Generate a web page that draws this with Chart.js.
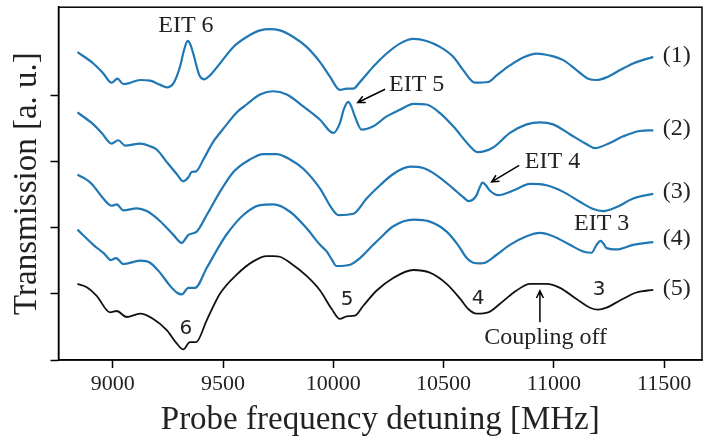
<!DOCTYPE html>
<html><head><meta charset="utf-8">
<script src="https://cdn.jsdelivr.net/npm/chart.js@4.4.1/dist/chart.umd.min.js"></script>
<style>html,body{margin:0;padding:0;background:#fff;}canvas{display:block;}</style>
</head><body>
<canvas id="c" width="708" height="446"></canvas>
<script>
// ---- data (probe detuning in MHz, transmission in a.u. incl. vertical offsets) ----
const freq1 = [8840,8912,8957,8995,9021,9048,9071,9124,9169,9214,9245,9275,9305,9323,9340,9354,9365,9393,9414,9441,9486,9547,9607,9668,9713,9758,9819,9879,9940,9985,10030,10061,10091,10121,10181,10242,10302,10363,10423,10484,10544,10589,10642,10703,10741,10801,10861,10922,10982,11043,11103,11156,11194,11239,11300,11360,11451];
const trans1 = [4.65,4.48,4.33,4.19,4.25,4.17,4.18,4.23,4.22,4.16,4.12,4.18,4.43,4.68,4.82,4.75,4.63,4.30,4.24,4.30,4.48,4.73,4.88,4.98,5.00,4.98,4.88,4.73,4.50,4.28,4.08,4.10,4.10,4.20,4.43,4.63,4.78,4.85,4.82,4.73,4.58,4.38,4.19,4.20,4.30,4.45,4.57,4.63,4.60,4.53,4.38,4.25,4.23,4.27,4.38,4.48,4.58];
const freq2 = [8840,8912,8950,8995,9025,9056,9124,9169,9199,9245,9290,9320,9343,9358,9378,9411,9456,9486,9517,9562,9607,9668,9728,9789,9864,9940,10000,10030,10048,10068,10083,10098,10129,10181,10242,10302,10363,10423,10484,10544,10620,10655,10725,10801,10877,10937,10997,11073,11149,11186,11254,11315,11390,11451];
const trans2 = [3.74,3.56,3.43,3.27,3.32,3.24,3.27,3.23,3.18,2.99,2.81,2.70,2.76,2.84,2.85,3.03,3.30,3.43,3.56,3.74,3.86,4.01,4.06,4.01,3.83,3.63,3.43,3.58,3.79,3.90,3.82,3.68,3.48,3.53,3.68,3.78,3.87,3.86,3.73,3.53,3.23,3.14,3.21,3.43,3.56,3.59,3.56,3.41,3.26,3.20,3.28,3.38,3.46,3.47];
const freq3 = [8840,8874,8905,8957,8995,9018,9048,9109,9154,9214,9275,9313,9343,9381,9426,9486,9547,9622,9683,9743,9804,9864,9940,9993,10023,10091,10151,10212,10272,10348,10408,10469,10544,10589,10615,10650,10663,10677,10692,10710,10748,10816,10892,10967,11043,11118,11179,11224,11285,11360,11451];
const trans3 = [2.80,2.74,2.66,2.44,2.33,2.35,2.26,2.29,2.25,2.10,1.89,1.77,1.89,1.94,2.19,2.54,2.84,3.03,3.11,3.11,3.03,2.89,2.59,2.29,2.19,2.21,2.44,2.64,2.81,2.92,2.90,2.79,2.59,2.46,2.40,2.49,2.60,2.68,2.64,2.56,2.49,2.56,2.66,2.64,2.54,2.39,2.28,2.25,2.31,2.44,2.51];
const freq4 = [8840,8912,8960,8992,9015,9048,9124,9169,9214,9260,9290,9313,9343,9373,9426,9486,9517,9592,9668,9728,9804,9879,9940,9970,9993,10015,10076,10121,10181,10212,10272,10363,10438,10514,10565,10605,10635,10665,10688,10741,10801,10877,10937,10997,11073,11133,11171,11194,11212,11225,11239,11285,11360,11451];
const trans4 = [1.97,1.74,1.61,1.51,1.54,1.45,1.50,1.47,1.32,1.12,1.02,0.99,1.09,1.09,1.39,1.74,1.90,2.19,2.34,2.35,2.24,1.99,1.74,1.64,1.52,1.42,1.44,1.54,1.74,1.84,2.02,2.12,2.09,1.94,1.74,1.54,1.47,1.46,1.47,1.59,1.74,1.87,1.92,1.87,1.74,1.64,1.62,1.74,1.80,1.76,1.69,1.67,1.74,1.78];
const freq5 = [8840,8882,8927,8988,9018,9063,9124,9184,9245,9290,9320,9350,9378,9426,9486,9562,9637,9698,9728,9758,9804,9879,9940,9993,10030,10061,10098,10136,10197,10272,10363,10438,10514,10574,10612,10650,10703,10756,10831,10892,10967,11028,11103,11164,11201,11239,11300,11375,11451];
const trans5 = [1.15,1.10,0.97,0.72,0.74,0.65,0.70,0.62,0.45,0.25,0.16,0.27,0.27,0.60,1.00,1.29,1.49,1.57,1.57,1.56,1.47,1.27,1.05,0.77,0.62,0.66,0.67,0.82,1.05,1.24,1.36,1.32,1.15,0.93,0.77,0.70,0.72,0.85,1.05,1.15,1.15,1.09,0.92,0.79,0.76,0.79,0.90,1.02,1.06];
const xTicks = [9000,9500,10000,10500,11000,11500];
const yTicks = [0,1,2,3,4];
const traceNames = ['(1)','(2)','(3)','(4)','(5)'];

// ---- annotations (placed in data coordinates) ----
const SERIF = "'Liberation Serif', 'Times New Roman', serif";
const SANS = "'DejaVu Sans', sans-serif";
const serifNotes = [
  {t:'EIT 6', f:9332, v:5.055}, {t:'EIT 5', f:10378, v:4.165},
  {t:'EIT 4', f:10994, v:2.99}, {t:'EIT 3', f:11217, v:2.06},
  {t:traceNames[0], f:11557, v:4.60}, {t:traceNames[1], f:11557, v:3.50}, {t:traceNames[2], f:11557, v:2.55},
  {t:traceNames[3], f:11557, v:1.83}, {t:traceNames[4], f:11557, v:1.08},
  {t:'Coupling off', f:10963, v:0.33}
];
const sansNotes = [
  {t:'6', f:9332, v:0.47}, {t:'5', f:10063, v:0.91}, {t:'4', f:10657, v:0.92}, {t:'3', f:11205, v:1.06}
];
const arrows = [
  {f0:10235, v0:4.09, f1:10111, v1:3.89},
  {f0:10843, v0:2.94, f1:10718, v1:2.69},
  {f0:10937, v0:0.57, f1:10937, v1:1.045}
];

const mk = (fs, vs) => fs.map((f, i) => ({x: f, y: vs[i]}));
const blue = '#1f77b4';

const annotPlugin = {
  id: 'annot',
  afterDatasetsDraw(chart) {
    const {ctx, chartArea: a, scales: {x, y}} = chart;
    ctx.save();
    ctx.strokeStyle = '#000';
    ctx.lineWidth = 1.5;
    ctx.strokeRect(a.left, a.top, a.right - a.left, a.bottom - a.top);
    ctx.fillStyle = '#222';
    ctx.textAlign = 'center';
    ctx.textBaseline = 'middle';
    ctx.font = '24px ' + SERIF;
    serifNotes.forEach(n => ctx.fillText(n.t, x.getPixelForValue(n.f), y.getPixelForValue(n.v)));
    ctx.font = '20px ' + SANS;
    sansNotes.forEach(n => ctx.fillText(n.t, x.getPixelForValue(n.f), y.getPixelForValue(n.v)));
    ctx.lineWidth = 1.5;
    ctx.strokeStyle = '#000';
    arrows.forEach(r => {
      const x0 = x.getPixelForValue(r.f0), y0 = y.getPixelForValue(r.v0);
      const x1 = x.getPixelForValue(r.f1), y1 = y.getPixelForValue(r.v1);
      const ang = Math.atan2(y1 - y0, x1 - x0), L = 8, w = 0.45;
      ctx.beginPath();
      ctx.moveTo(x0, y0); ctx.lineTo(x1, y1);
      ctx.moveTo(x1 - L * Math.cos(ang - w), y1 - L * Math.sin(ang - w));
      ctx.lineTo(x1, y1);
      ctx.lineTo(x1 - L * Math.cos(ang + w), y1 - L * Math.sin(ang + w));
      ctx.stroke();
    });
    ctx.restore();
  }
};

const ds = (fs, vs, color, w) => ({
  data: mk(fs, vs), borderColor: color, borderWidth: w, pointRadius: 0,
  cubicInterpolationMode: 'monotone', fill: false
});

new Chart(document.getElementById('c'), {
  type: 'line',
  data: {
    datasets: [
      ds(freq1, trans1, blue, 2.2), ds(freq2, trans2, blue, 2.2), ds(freq3, trans3, blue, 2.2),
      ds(freq4, trans4, blue, 2.2), ds(freq5, trans5, '#111', 1.8)
    ]
  },
  options: {
    responsive: false, animation: false, devicePixelRatio: 1,
    layout: {padding: {left: 0, right: 6, top: 3, bottom: 0}},
    plugins: {legend: {display: false}, tooltip: {enabled: false}},
    scales: {
      x: {
        type: 'linear', min: 8754, max: 11672,
        afterBuildTicks: s => { s.ticks = xTicks.map(v => ({value: v})); },
        afterFit: s => { s.height = 86; },
        grid: {drawOnChartArea: false, drawTicks: true, tickLength: 8, tickColor: '#000', tickWidth: 1.5},
        border: {display: true, color: '#000', width: 1.5},
        ticks: {color: '#222', font: {family: SERIF, size: 22}, padding: 3, callback: v => String(v), maxRotation: 0, autoSkip: false},
        title: {display: true, text: 'Probe frequency detuning [MHz]', color: '#222', font: {family: SERIF, size: 33}, padding: {top: 0, bottom: 6}}
      },
      y: {
        type: 'linear', min: 0, max: 5.33,
        afterBuildTicks: s => { s.ticks = yTicks.map(v => ({value: v})); },
        afterFit: s => { s.width = 58.5; },
        grid: {drawOnChartArea: false, drawTicks: true, tickLength: 8, tickColor: '#000', tickWidth: 1.5},
        border: {display: true, color: '#000', width: 1.5},
        ticks: {callback: () => '', padding: 0},
        title: {display: true, text: 'Transmission [a. u.]', color: '#222', font: {family: SERIF, size: 33}, padding: {top: 8, bottom: 0}}
      }
    }
  },
  plugins: [annotPlugin]
});
</script>
</body></html>
